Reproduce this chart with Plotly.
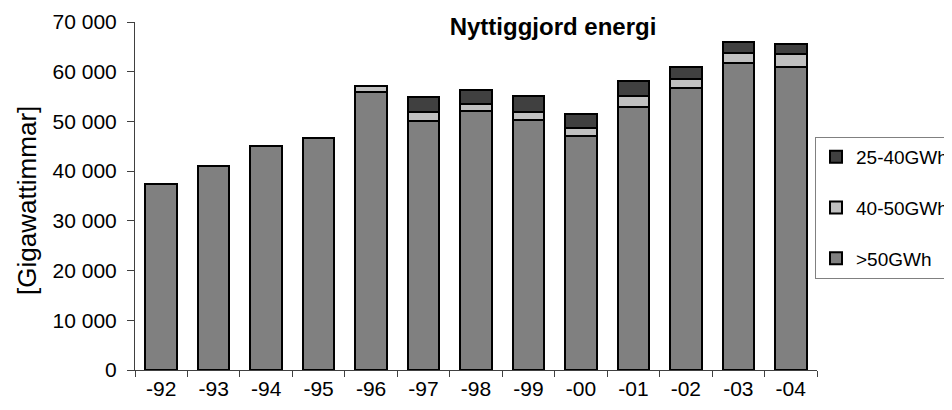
import plotly.graph_objects as go

years = ["-92", "-93", "-94", "-95", "-96", "-97", "-98", "-99", "-00", "-01", "-02", "-03", "-04"]
over50 = [37500, 41000, 45000, 46600, 56000, 50000, 52000, 50200, 47000, 53000, 56800, 61800, 61000]
s40_50 = [0, 0, 0, 0, 1200, 1800, 1600, 1700, 1700, 2100, 1700, 1900, 2500]
s25_40 = [0, 0, 0, 0, 0, 3200, 2700, 3200, 2800, 3000, 2500, 2300, 2100]

series = [
    (">50GWh", over50, "#808080", 3),
    ("40-50GWh", s40_50, "#C0C0C0", 2),
    ("25-40GWh", s25_40, "#404040", 1),
]

# the page body has an 8px margin, so the figure is drawn 8px smaller and offset
OFF = 8
W, H = 952 - OFF, 410 - OFF
L, R, T, B = 135 - OFF, 817 - OFF, 22 - OFF, 370 - OFF

fig = go.Figure()
for name, vals, col, rank in series:
    fig.add_trace(go.Bar(
        x=years, y=vals, name=name, legendgroup=name, legendrank=rank,
        marker=dict(color=col, line=dict(color="black", width=2)),
    ))

font = "Liberation Sans, Arial, sans-serif"
fig.update_layout(
    width=W, height=H,
    barmode="stack", bargap=0.4,
    paper_bgcolor="white", plot_bgcolor="white",
    margin=dict(l=L, r=W - R, t=T, b=H - B, pad=0, autoexpand=False),
    font=dict(family=font, size=21, color="black"),
    title=dict(text="<b>Nyttiggjord energi</b>", x=(553 - OFF) / W, xanchor="center",
               y=1 - (27 - OFF) / H, yanchor="middle", font=dict(size=24, family=font)),
    showlegend=True,
    legend=dict(x=(815 - OFF - L) / (R - L), xanchor="left",
                y=(B - (137 - OFF)) / (B - T), yanchor="top",
                traceorder="grouped", bordercolor="#808080", borderwidth=1,
                bgcolor="white", tracegroupgap=23, font=dict(size=19, family=font)),
    xaxis=dict(type="category", showline=True, linecolor="#404040", linewidth=1,
               ticks="outside", tickson="boundaries", ticklen=6, tickcolor="#404040",
               showgrid=False, tickfont=dict(size=21)),
    yaxis=dict(range=[0, 70000], tickvals=[0, 10000, 20000, 30000, 40000, 50000, 60000, 70000],
               ticktext=["0", "10 000", "20 000", "30 000", "40 000", "50 000", "60 000", "70 000"],
               showline=True, linecolor="#404040", linewidth=1, ticks="outside", ticklen=7,
               tickcolor="#404040", showgrid=False, zeroline=False, tickfont=dict(size=21),
               ticklabelstandoff=6),
    annotations=[dict(text="[Gigawattimmar]", textangle=-90, xref="paper", yref="paper",
                      x=(27 - OFF - L) / (R - L), y=(B - (201 - OFF)) / (B - T), xanchor="center",
                      yanchor="middle", showarrow=False, font=dict(size=26, family=font))],
)

fig.write_html("out.html")
